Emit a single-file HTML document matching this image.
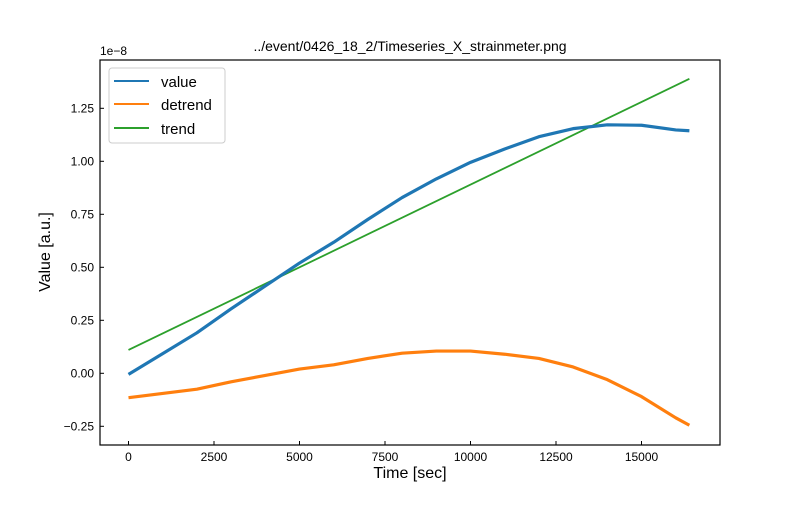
<!DOCTYPE html>
<html><head><meta charset="utf-8"><style>
body{margin:0;background:#fff}
text{font-family:"Liberation Sans",sans-serif;fill:#000}
</style></head><body>
<svg id="chart" width="800" height="500">
<rect width="800" height="500" fill="#fff"/>
<text x="410" y="51" font-size="14" text-anchor="middle">../event/0426_18_2/Timeseries_X_strainmeter.png</text>
<text x="100" y="55" font-size="12">1e−8</text>
<g id="plot"></g>
<rect x="100" y="60" width="620" height="385" fill="none" stroke="#000" stroke-width="1.2"/>
<g id="xt"></g><g id="yt"></g>
<text x="410" y="478" font-size="16" text-anchor="middle">Time [sec]</text>
<text transform="translate(50,252) rotate(-90)" font-size="16" text-anchor="middle">Value [a.u.]</text>
<g>
<rect x="109" y="68" width="116" height="75" rx="3" fill="#fff" fill-opacity="0.8" stroke="#ccc"/>
<g><line x1="114" y1="81" x2="149" y2="81" stroke="#1f77b4" stroke-width="2"/><text x="161" y="87" font-size="15">value</text></g>
<g><line x1="114" y1="104" x2="149" y2="104" stroke="#ff7f0e" stroke-width="2"/><text x="161" y="110" font-size="15">detrend</text></g>
<g><line x1="114" y1="128" x2="149" y2="128" stroke="#2ca02c" stroke-width="2"/><text x="161" y="134" font-size="15">trend</text></g>
</g>
</svg>
<script>
const times=[0,1000,2000,3000,4000,5000,6000,7000,8000,9000,10000,11000,12000,13000,14000,15000,16000,16400];
const valueSeries=[-0.005,0.093,0.191,0.304,0.412,0.52,0.618,0.726,0.829,0.917,0.995,1.058,1.116,1.154,1.172,1.170,1.148,1.144];
const detrendSeries=[-0.115,-0.095,-0.075,-0.04,-0.01,0.02,0.04,0.07,0.095,0.105,0.105,0.09,0.07,0.03,-0.03,-0.11,-0.21,-0.245];
const trendTimes=[0,16400];
const trendSeries=[0.11,1.389];
const xTicks=[0,2500,5000,7500,10000,12500,15000];
const yTicks=[-0.25,0,0.25,0.5,0.75,1.0,1.25];
const yTickLabels=["−0.25","0.00","0.25","0.50","0.75","1.00","1.25"];
const X=t=>128.5+t*(85.5/2500);
const Y=v=>373.3-v*(53/0.25);
const NS="http://www.w3.org/2000/svg";
const plot=document.getElementById('plot');
function line(ts,vs,color,w,name){
 const p=document.createElementNS(NS,'polyline');
 p.setAttribute('points',ts.map((t,i)=>X(t)+','+Y(vs[i])).join(' '));
 p.setAttribute('fill','none');p.setAttribute('stroke',color);p.setAttribute('stroke-width',w);
 p.setAttribute('stroke-linejoin','round');
 
 
 plot.appendChild(p);
}
line(trendTimes,trendSeries,'#2ca02c',1.8,'trend-line');
line(times,valueSeries,'#1f77b4',3.2,'value-line');
line(times,detrendSeries,'#ff7f0e',3.2,'detrend-line');
const xt=document.getElementById('xt');
xTicks.forEach(t=>{
 const g=document.createElementNS(NS,'g');
 
 
 g.innerHTML=`<line x1="${X(t)}" y1="445" x2="${X(t)}" y2="441" stroke="#000"/><text x="${X(t)}" y="461" font-size="12" text-anchor="middle">${t}</text>`;
 xt.appendChild(g);
});
const yt=document.getElementById('yt');
yTicks.forEach((v,i)=>{
 const g=document.createElementNS(NS,'g');
 
 
 g.innerHTML=`<line x1="100" y1="${Y(v)}" x2="104" y2="${Y(v)}" stroke="#000"/><text x="94" y="${Y(v)+4}" font-size="12" text-anchor="end">${yTickLabels[i]}</text>`;
 yt.appendChild(g);
});
</script>
</body></html>
